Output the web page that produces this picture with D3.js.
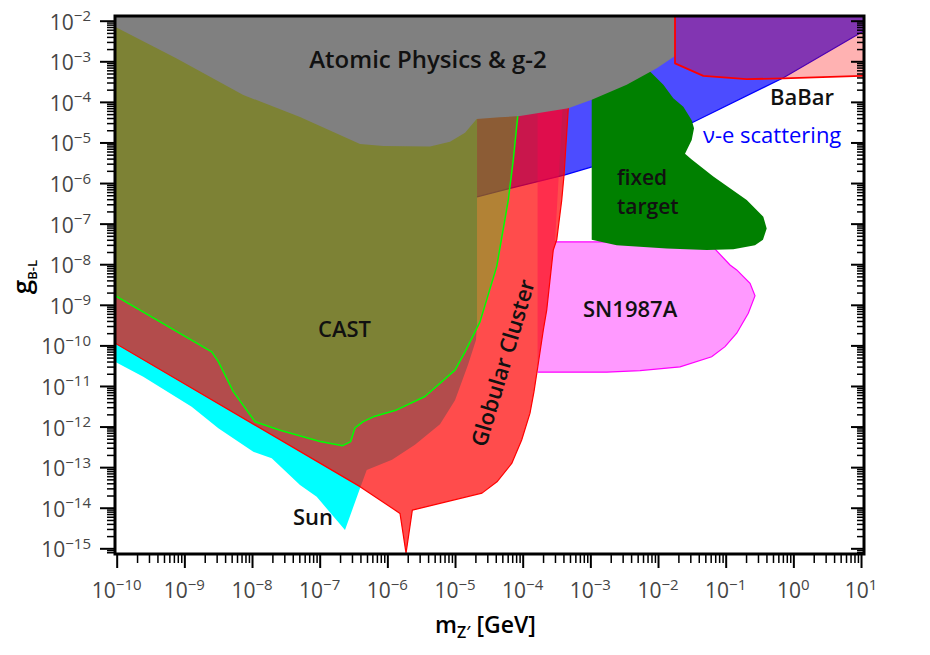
<!DOCTYPE html>
<html>
<head>
<meta charset="utf-8">
<script src="https://cdn.jsdelivr.net/npm/d3@7"></script>
<style>
  body { margin: 0; background: #fff; }
  text { font-family: "Open Sans", "Noto Sans", sans-serif; }
</style>
</head>
<body>
<div id="chart"></div>
<script>
// all points are [log10(m_Z' / GeV), log10(g_B-L)]
const sunRegion = [
    [-10.05, -10.38], [-9.607, -10.77], [-8.892, -11.51], [-8.498, -12.04],
    [-7.981, -12.62], [-7.709, -12.78], [-7.291, -13.44], [-7.044, -13.73],
    [-6.626, -14.55], [-6.404, -13.52], [-6.305, -13.07], [-5.931, -12.82],
    [-5.592, -12.45], [-5.222, -11.94], [-5.000, -11.35], [-4.808, -10.48],
    [-4.690, -9.87], [-4.675, -9.50], [-4.675, -1.5], [-10.05, -1.5]
];

const nuERegion = [
    [-4.675, -6.34], [-4.158, -6.12], [-3.375, -5.80], [-2.976, -5.60],
    [-1.483, -4.50], [-0.153, -3.41], [1.015, -2.28], [1.1, -2.2],
    [1.1, -1.5], [-4.675, -1.5]
];
const nuEEdge = nuERegion.slice(0, 8);

const snRegion = [
    [-3.78, -10.66], [-2.758, -10.66], [-2.266, -10.62], [-1.675, -10.53],
    [-1.207, -10.28], [-1.010, -10.03], [-0.837, -9.70], [-0.666, -9.21],
    [-0.567, -8.78], [-0.640, -8.47], [-0.837, -8.14], [-0.936, -8.02],
    [-1.257, -7.45], [-3.522, -7.45], [-3.404, -3.95], [-3.78, -3.95]
];
const snEdge = snRegion.slice(0, 14);

const globularRegion = [
    [-10.05, -9.92], [-6.404, -13.48], [-5.813, -14.14], [-5.724, -15.12],
    [-5.631, -14.06], [-4.601, -13.64], [-4.380, -13.36], [-4.162, -12.91],
    [-4.015, -12.33], [-3.892, -11.67], [-3.833, -11.14], [-3.769, -10.44],
    [-3.695, -9.62], [-3.645, -9.13], [-3.548, -7.65], [-3.497, -7.40],
    [-3.423, -6.42], [-3.389, -5.80], [-3.326, -4.16], [-3.271, -2.48],
    [-3.23, -1.5], [-10.05, -1.5]
];

const castRegion = [
    [-10.05, -8.75], [-8.596, -10.16], [-8.498, -10.40], [-8.277, -11.14],
    [-7.956, -11.88], [-7.587, -12.09], [-6.995, -12.37], [-6.660, -12.47],
    [-6.542, -12.37], [-6.478, -12.03], [-6.356, -11.88], [-6.208, -11.76],
    [-5.862, -11.59], [-5.444, -11.26], [-5.000, -10.61], [-4.852, -10.16],
    [-4.631, -9.42], [-4.384, -8.06], [-4.213, -6.42], [-4.139, -5.43],
    [-4.074, -4.37], [-4.010, -2.97], [-3.97, -1.5], [-10.05, -1.5]
];

const fixedTargetRegion = [
    [-2.980, -3.71], [-2.980, -7.40], [-2.611, -7.53], [-1.872, -7.61],
    [-1.280, -7.65], [-0.887, -7.63], [-0.567, -7.53], [-0.449, -7.40],
    [-0.394, -7.12], [-0.444, -6.83], [-0.689, -6.42], [-1.183, -5.84],
    [-1.502, -5.42], [-1.601, -5.28], [-1.576, -5.19], [-1.502, -4.94],
    [-1.468, -4.65], [-1.502, -4.45], [-1.626, -4.12], [-1.774, -3.91],
    [-1.921, -3.58], [-2.144, -3.21], [-2.414, -2.97]
];

const atomicRegion = [
    [-10.05, -2.13], [-9.113, -2.93], [-8.129, -3.83], [-7.291, -4.37],
    [-6.404, -5.04], [-6.060, -5.09], [-5.370, -5.10], [-5.074, -4.98],
    [-4.852, -4.76], [-4.680, -4.42], [-4.340, -4.38], [-4.040, -4.35],
    [-3.326, -4.16], [-2.980, -3.95], [-2.463, -3.58], [-2.019, -3.17],
    [-1.749, -2.87], [-1.749, -1.5], [-10.05, -1.5]
];

const babarRegion = [
    [-1.749, -1.5], [-1.749, -3.05], [-1.331, -3.36], [-0.689, -3.44],
    [-0.148, -3.42], [1.010, -3.36], [1.1, -3.36], [1.1, -1.5]
];

const xTickExponents = [-10, -9, -8, -7, -6, -5, -4, -3, -2, -1, 0, 1];
const yTickExponents = [-15, -14, -13, -12, -11, -10, -9, -8, -7, -6, -5, -4, -3, -2];

const width = 930, height = 655;

const x = d3.scaleLog()
    .domain([10 ** -10.025, 10 ** 1.044])
    .range([115, 864]);
const y = d3.scaleLog()
    .domain([10 ** -15.14, 10 ** -1.884])
    .range([554, 16]);

const svg = d3.select("#chart")
    .append("svg")
    .attr("width", width)
    .attr("height", height);

const plotLeft = x.range()[0], plotRight = x.range()[1];
const plotTop = y.range()[1], plotBottom = y.range()[0];

svg.append("defs").append("clipPath")
    .attr("id", "plot-clip")
    .append("rect")
    .attr("x", plotLeft).attr("y", plotTop)
    .attr("width", plotRight - plotLeft).attr("height", plotBottom - plotTop);

const line = d3.line()
    .x(d => x(10 ** d[0]))
    .y(d => y(10 ** d[1]));

const plot = svg.append("g").attr("clip-path", "url(#plot-clip)");

function region(pts, fill, stroke, strokeWidth) {
    plot.append("path")
        .attr("d", line(pts) + "Z")
        .attr("fill", fill)
        .attr("stroke", stroke || "none")
        .attr("stroke-width", strokeWidth || 0)
        .attr("stroke-linejoin", "round");
}

function edge(pts, stroke, strokeWidth) {
    plot.append("path")
        .attr("d", line(pts))
        .attr("fill", "none")
        .attr("stroke", stroke)
        .attr("stroke-width", strokeWidth);
}

// layers, bottom to top
region(sunRegion, "#00ffff");
region(nuERegion, "rgba(0,0,255,0.7)");
edge(nuEEdge, "#0000ff", 1.2);
region(snRegion, "rgba(255,0,255,0.4)");
edge(snEdge, "#ff00ff", 1.2);
region(globularRegion, "rgba(255,0,0,0.7)", "#ff0000", 1.2);
region(castRegion, "rgba(0,255,0,0.3)", "#00ff00", 1.5);
region(fixedTargetRegion, "#008000");
region(atomicRegion, "#808080");
region(babarRegion, "rgba(255,0,0,0.3)", "#ff0000", 1.8);

// ticks
const minorTicks = (domain) => {
    const lo = Math.floor(Math.log10(domain[0])), hi = Math.ceil(Math.log10(domain[1]));
    const out = [];
    for (let e = lo; e <= hi; e++) {
        for (let m = 2; m <= 9; m++) {
            const v = m * 10 ** e;
            if (v >= domain[0] && v <= domain[1]) out.push(v);
        }
    }
    return out;
};
const xMajor = xTickExponents.map(e => 10 ** e);
const yMajor = yTickExponents.map(e => 10 ** e);

function tickAxis(axis, transform, values, size, sw) {
    const g = svg.append("g")
        .attr("transform", transform)
        .call(axis.tickValues(values).tickSize(size).tickFormat(""));
    g.select(".domain").remove();
    g.selectAll(".tick line").attr("stroke", "#000").attr("stroke-width", sw);
}

tickAxis(d3.axisBottom(x), `translate(0,${plotBottom})`, xMajor, 14, 2);
tickAxis(d3.axisBottom(x), `translate(0,${plotBottom})`, minorTicks(x.domain()), 9, 1.5);
tickAxis(d3.axisLeft(y), `translate(${plotLeft},0)`, yMajor, 15, 2);
tickAxis(d3.axisLeft(y), `translate(${plotLeft},0)`, minorTicks(y.domain()), 8, 1.5);
tickAxis(d3.axisRight(y), `translate(${plotRight},0)`, yMajor, -13, 2);
tickAxis(d3.axisRight(y), `translate(${plotRight},0)`, minorTicks(y.domain()), -7, 1.5);

// frame
svg.append("rect")
    .attr("x", plotLeft).attr("y", plotTop)
    .attr("width", plotRight - plotLeft).attr("height", plotBottom - plotTop)
    .attr("fill", "none")
    .attr("stroke", "#000")
    .attr("stroke-width", 3);

// tick labels
const expText = e => (e < 0 ? "\u2212" + (-e) : String(e));

const xLabels = svg.append("g").selectAll("text")
    .data(xTickExponents)
    .enter()
    .append("text")
    .attr("x", d => x(10 ** d))
    .attr("y", 598)
    .attr("text-anchor", "middle")
    .attr("fill", "#454545")
    .attr("font-size", 21);
xLabels.append("tspan").text("10");
xLabels.append("tspan").attr("dy", -8.5).attr("font-size", 15).text(d => expText(d));

const yLabels = svg.append("g").selectAll("text")
    .data(yTickExponents)
    .enter()
    .append("text")
    .attr("x", 91)
    .attr("y", d => y(10 ** d) + 9)
    .attr("text-anchor", "end")
    .attr("fill", "#454545")
    .attr("font-size", 21);
yLabels.append("tspan").text("10");
yLabels.append("tspan").attr("dy", -8.5).attr("font-size", 15).text(d => expText(d));

// axis titles
const xTitle = svg.append("text")
    .attr("x", (plotLeft + plotRight) / 2 - 4)
    .attr("y", 633)
    .attr("text-anchor", "middle")
    .attr("font-size", 23)
    .attr("font-weight", 600)
    .attr("fill", "#000");
xTitle.append("tspan").text("m");
xTitle.append("tspan").attr("dy", 5).attr("font-size", 16).text("Z\u2032");
xTitle.append("tspan").attr("dy", -5).text(" [GeV]");

const yTitle = svg.append("text")
    .attr("transform", "translate(31,277) rotate(-90)")
    .attr("text-anchor", "middle")
    .attr("font-size", 26)
    .attr("font-weight", 600)
    .attr("fill", "#000");
yTitle.append("tspan").text("g");
yTitle.append("tspan").attr("dy", 6).attr("font-size", 13).text("B-L");

// region labels
const labels = svg.append("g")
    .attr("font-size", 22)
    .attr("font-weight", 600)
    .attr("fill", "#111");

labels.append("text").attr("x", 428).attr("y", 68).attr("text-anchor", "middle")
    .attr("font-size", 24).text("Atomic Physics & g-2");
labels.append("text").attr("x", 770).attr("y", 105).text("BaBar");
labels.append("text").attr("x", 703).attr("y", 143).attr("fill", "#0000ff")
    .attr("font-weight", 500).text("\u03bd-e scattering");
labels.append("text").attr("x", 617).attr("y", 185).attr("font-size", 21).text("fixed");
labels.append("text").attr("x", 617).attr("y", 214).attr("font-size", 21).text("target");
labels.append("text").attr("x", 583).attr("y", 317).text("SN1987A");
labels.append("text").attr("x", 318).attr("y", 337).text("CAST");
labels.append("text").attr("x", 293).attr("y", 525).text("Sun");
labels.append("text")
    .attr("transform", "translate(503,363) rotate(-73.4)")
    .attr("text-anchor", "middle")
    .attr("dy", "0.35em")
    .text("Globular Cluster");
</script>
</body>
</html>
